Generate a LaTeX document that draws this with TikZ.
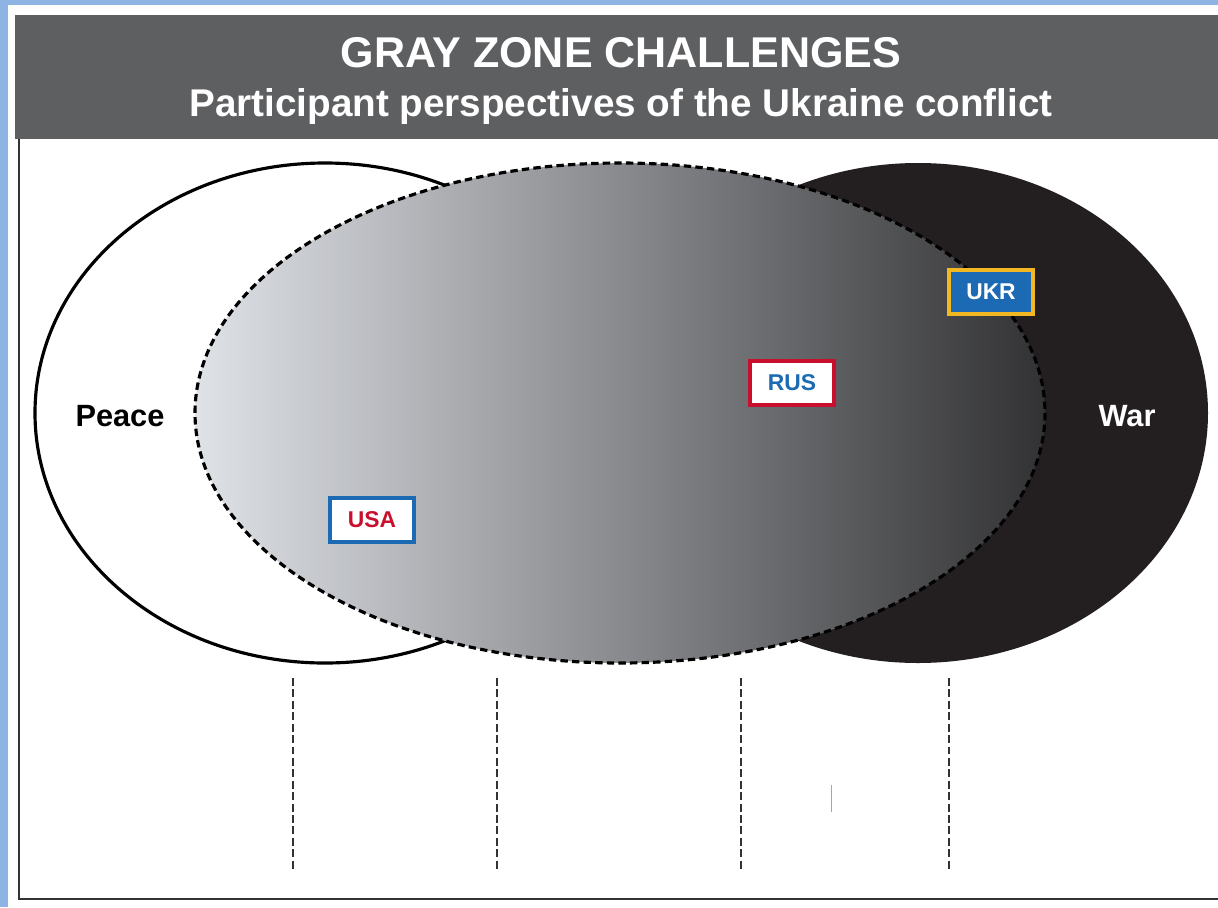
\documentclass[tikz,border=0pt]{standalone}
\usepackage{fontspec}
\setmainfont{Liberation Sans}
\usepackage{tikz}
\definecolor{frameblue}{RGB}{141,180,226}
\definecolor{headgray}{RGB}{94,95,97}
\definecolor{warblack}{RGB}{35,31,32}
\definecolor{zonelight}{RGB}{223,226,231}
\definecolor{zonemid}{RGB}{140,142,145}
\definecolor{zonedark}{RGB}{50,50,52}
\definecolor{tagblue}{RGB}{27,106,179}
\definecolor{tagred}{RGB}{200,16,46}
\definecolor{taggold}{RGB}{242,184,36}
\tikzset{
  tag/.style={draw,line width=2.2pt,fill=white,inner sep=0pt,
    minimum width=1.69cm,minimum height=0.89cm,
    font=\bfseries\fontsize{13}{13}\selectfont},
  side/.style={font=\bfseries\fontsize{17.5}{17.5}\selectfont,anchor=base}
}

\begin{document}
\begin{tikzpicture}[x=0.02cm,y=-0.02cm]
            \useasboundingbox (0,0) rectangle (1218,907);
            \fill[white] (0,0) rectangle (1218,907);
            \fill[frameblue] (0,0) rectangle (1218,5);
            \fill[frameblue] (0,0) rectangle (8,907);
            \draw[line width=1.4pt,black!80] (19,15) -- (19,899) -- (1218,899);
            \fill[headgray] (15,15) rectangle (1218,139);
            \node[white,anchor=base,font=\bfseries\fontsize{24.5}{24.5}\selectfont] (title) at (621,67) {GRAY ZONE CHALLENGES};
            \node[white,anchor=base,font=\bfseries\fontsize{22}{22}\selectfont] (subtitle) at (621,116) {Participant perspectives of the Ukraine conflict};
            \draw[line width=1.8pt,fill=white] (325,413) ellipse [x radius=290, y radius=250];
            \fill[warblack] (918,413) ellipse [x radius=290, y radius=250];
            \shade[left color=zonelight,middle color=zonemid,right color=zonedark] (620,413) ellipse [x radius=425, y radius=250];
            \draw[line width=1.8pt,dash pattern=on 4.2pt off 2.4pt] (620,413) ellipse [x radius=425, y radius=250];
            \node[side] (peace) at (120,426) {Peace};
            \node[side,white] (war) at (1127,426) {War};
            \node[tag,draw=tagblue,text=tagred] (usa) at (372,520) {USA};
            \node[tag,draw=tagred,text=tagblue] (rus) at (792,383) {RUS};
            \node[tag,draw=taggold,fill=tagblue,text=white] (ukr) at (991,292) {UKR};
            \foreach \x [count=\i] in {293,497,741,949} {
              \coordinate (top\i) at (\x,678);
              \coordinate (bot\i) at (\x,872);
              \draw[line width=1.3pt,black!80,dash pattern=on 4.5pt off 2pt] (top\i) -- (bot\i);
            }
            \draw[line width=0.3pt,black!35] (831,785) -- (831,812);
        \end{tikzpicture}
\end{document}
